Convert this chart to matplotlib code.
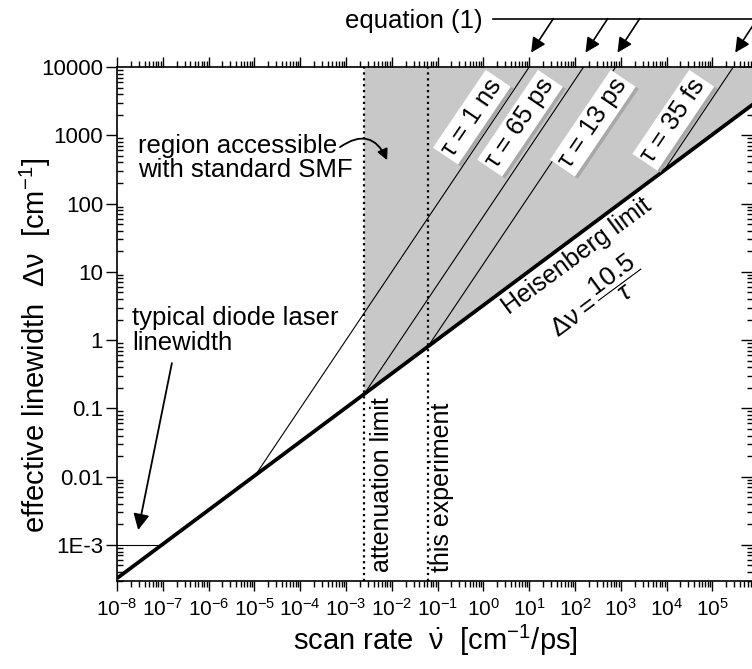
import numpy as np
import matplotlib.pyplot as plt
from matplotlib import font_manager
from matplotlib.lines import Line2D
from matplotlib.patches import FancyArrowPatch
from matplotlib.transforms import offset_copy
from matplotlib.ticker import FixedLocator, FixedFormatter, LogLocator, NullFormatter

plt.rcParams['font.family'] = ['Liberation Sans', 'DejaVu Sans']
plt.rcParams['mathtext.fontset'] = 'custom'
plt.rcParams['mathtext.rm'] = 'Liberation Sans'
plt.rcParams['mathtext.it'] = 'Liberation Sans:italic'
plt.rcParams['mathtext.cal'] = 'Liberation Sans'

# narrow face for tick labels if the system has one, else plain Liberation Sans
try:
    font_manager.findfont(font_manager.FontProperties(family='Liberation Sans Narrow'),
                          fallback_to_default=False)
    tick_family, x_tick_size, y_tick_size = 'Liberation Sans Narrow', 17, 17
except ValueError:
    tick_family, x_tick_size, y_tick_size = 'Liberation Sans', 15, 16

# ---------------------------------------------------------
# data (scan rate in cm^-1/ps, linewidth in cm^-1)
# ---------------------------------------------------------
heis_rate = [1e-8, 1e6]
heis_width = [3.24e-4, 3240]

tau_labels = ['τ = 1 ns', 'τ = 65 ps', 'τ = 13 ps', 'τ = 35 fs']
tau_rate_start = [1.05e-5, 2.49e-3, 0.062, 8.6e3]
tau_width_start = [0.0105, 0.162, 0.81, 300]
tau_rate_end = [10, 154, 770, 2.86e5]
tau_width_end = [1e4, 1e4, 1e4, 1e4]

diode_rate = [1e-8, 1e-7]
diode_width = [1e-3, 1e-3]

attenuation_rate = 2.45e-3
experiment_rate = 0.062

x_ticks = [1e-8, 1e-7, 1e-6, 1e-5, 1e-4, 1e-3, 1e-2, 1e-1, 1e0, 1e1, 1e2, 1e3, 1e4, 1e5]
x_tick_labels = [r'$\mathregular{10^{%d}}$' % e for e in range(-8, 6)]
y_ticks = [1e-3, 1e-2, 1e-1, 1, 10, 100, 1000, 10000]
y_tick_labels = ['1E-3', '0.01', '0.1', '1', '10', '100', '1000', '10000']

SHADE = '#c8c8c8'

fig = plt.figure(figsize=(7.52, 6.69), dpi=100)
ax = fig.add_axes([117 / 752, 88 / 669, 636 / 752, 514 / 669])
ax.set_xscale('log')
ax.set_yscale('log')
ax.set_xlim(1e-8, 10 ** 5.886)
ax.set_ylim(10 ** -3.529, 1e4)

# shaded region accessible with standard SMF
ax.fill_between([attenuation_rate, heis_rate[1]],
                [tau_width_start[1], heis_width[1]], [1e4, 1e4],
                color=SHADE, lw=0, zorder=1)

ax.axvline(attenuation_rate, color='k', ls=':', lw=1.6, zorder=2)
ax.axvline(experiment_rate, color='k', ls=':', lw=1.6, zorder=2)

for i in range(len(tau_labels)):
    ax.plot([tau_rate_start[i], tau_rate_end[i]], [tau_width_start[i], tau_width_end[i]],
            color='k', lw=0.8, zorder=3)
ax.plot(diode_rate, diode_width, color='k', lw=0.8, zorder=3)
ax.plot(heis_rate, heis_width, color='k', lw=2.7, zorder=4, solid_capstyle='butt')

# ---------------------------------------------------------
# ticks
# ---------------------------------------------------------
ax.xaxis.set_major_locator(FixedLocator(x_ticks))
ax.xaxis.set_major_formatter(FixedFormatter(x_tick_labels))
ax.xaxis.set_minor_locator(LogLocator(base=10, subs=np.arange(2, 10), numticks=40))
ax.xaxis.set_minor_formatter(NullFormatter())
ax.yaxis.set_major_locator(FixedLocator(y_ticks))
ax.yaxis.set_major_formatter(FixedFormatter(y_tick_labels))
ax.yaxis.set_minor_locator(LogLocator(base=10, subs=np.arange(2, 10), numticks=40))
ax.yaxis.set_minor_formatter(NullFormatter())

ax.tick_params(axis='x', which='both', top=True, bottom=True, direction='out', width=1.0)
ax.tick_params(axis='x', which='major', length=7, labelsize=x_tick_size, pad=5,
               labelfontfamily=tick_family)
ax.tick_params(axis='x', which='minor', length=4)
ax.tick_params(axis='y', which='major', left=True, right=False, direction='out',
               length=8, width=1.0, labelsize=y_tick_size, pad=2, labelfontfamily=tick_family)
ax.tick_params(axis='y', which='minor', left=True, right=False, direction='in',
               length=4, width=1.0)

right = ax.secondary_yaxis('right')
right.yaxis.set_major_locator(FixedLocator(y_ticks))
right.yaxis.set_major_formatter(NullFormatter())
right.yaxis.set_minor_locator(LogLocator(base=10, subs=np.arange(2, 10), numticks=40))
right.yaxis.set_minor_formatter(NullFormatter())
right.tick_params(which='major', direction='in', length=9, width=1.0)
right.tick_params(which='minor', direction='in', length=4, width=1.0)

for sp in ax.spines.values():
    sp.set_linewidth(1.2)

fig.text(435 / 752, 1 - 640 / 669, r'scan rate  $\mathrm{\dot{\nu}}$  [cm$^{\mathregular{-1}}$/ps]',
         fontsize=21, ha='center', va='center')
fig.text(35 / 752, 1 - 345 / 669, r'effective linewidth  Δν  [cm$^{\mathregular{-1}}$]',
         fontsize=21, ha='center', va='center', rotation=90)

# ---------------------------------------------------------
# annotations
# ---------------------------------------------------------
shadow = offset_copy(ax.transData, fig=fig, x=3, y=-2, units='dots')
label_pos = [(0.56, 1840), (6.3, 1500), (245, 1500), (1.4e4, 1660)]
for (lx, ly), txt in zip(label_pos, tau_labels):
    ax.text(lx, ly, txt, rotation=55.9, ha='center', va='center', fontsize=18.5, zorder=5,
            color='none', transform=shadow,
            bbox=dict(boxstyle='square,pad=0.12', fc='#a8a8a8', ec='none'))
    ax.text(lx, ly, txt, rotation=55.9, ha='center', va='center', fontsize=18.5, zorder=5,
            bbox=dict(boxstyle='square,pad=0.12', fc='white', ec='none'))

ax.text(110, 17, 'Heisenberg limit', rotation=36.5, ha='center', va='center', fontsize=18, zorder=5)
ax.text(300, 4.0, r'$\mathregular{\Delta\nu} = \dfrac{\mathregular{10.5}}{\tau}$', rotation=36.5,
        ha='center', va='center', fontsize=19, zorder=5)

ax.text(attenuation_rate * 2.5, 4e-4, 'attenuation limit', rotation=90, ha='center', va='bottom',
        fontsize=18, zorder=5)
ax.text(experiment_rate * 2.0, 4e-4, 'this experiment', rotation=90, ha='center', va='bottom',
        fontsize=18, zorder=5)

ax.text(2.1e-8, 1.4, 'typical diode laser\nlinewidth', ha='left', va='center', fontsize=18.5,
        linespacing=1.05, zorder=5)
ax.annotate('', xy=(2.9e-8, 1.65e-3), xytext=(1.58e-7, 0.46),
            arrowprops=dict(arrowstyle='-|>', color='k', lw=1.3, mutation_scale=24,
                            shrinkA=0, shrinkB=0))

ax.text(2.9e-8, 462, 'region accessible\nwith standard SMF', ha='left', va='center', fontsize=18.5,
        linespacing=1.0, zorder=5)
ax.add_patch(FancyArrowPatch((7.4e-4, 670), (7.9e-3, 432), connectionstyle='arc3,rad=-0.6',
                             arrowstyle='-|>', mutation_scale=16, color='k', lw=1.3, zorder=5,
                             shrinkA=0, shrinkB=0))

# equation (1) pointers
fig.text(483 / 752, 1 - 21 / 669, 'equation (1)', ha='right', va='center', fontsize=18.5)
fig.add_artist(Line2D([493 / 752, 1], [1 - 19 / 669] * 2, color='k', lw=1.2))
for rx in tau_rate_end:
    ax.annotate('', xy=(rx * 1.1, 1.028), xycoords=('data', 'axes fraction'),
                xytext=(16, 24.5), textcoords='offset points',
                arrowprops=dict(arrowstyle='-|>', color='k', lw=1.2, mutation_scale=22,
                                shrinkA=0, shrinkB=0), annotation_clip=False)

fig.savefig('out.png', dpi=100)
